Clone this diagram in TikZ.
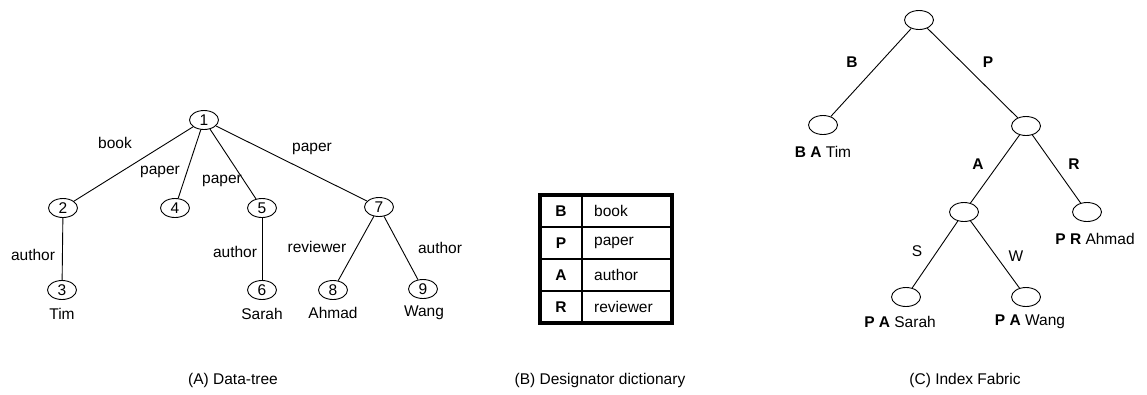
\documentclass[tikz,border=0pt]{standalone}
\usepackage{fontspec}
\setmainfont{Liberation Sans}
\usetikzlibrary{shapes.geometric}
\begin{document}
\begin{tikzpicture}[x=1pt,y=-1pt,
  every node/.style={font=\fontsize{15.5}{18}\selectfont},
  vert/.style={draw, ellipse, line width=0.9pt, minimum width=29pt, minimum height=19pt, inner sep=0pt},
  link/.style={line width=0.9pt},
  lbl/.style={inner sep=0pt},
  cellrule/.style={line width=1.8pt},
  cellframe/.style={line width=3.6pt}]
\useasboundingbox (0,0) rectangle (1147,394);

% ---------- (A) data tree ----------
\node[vert] (n1) at (204,120) {1};
\node[vert] (n2) at (63,208) {2};
\node[vert] (n4) at (175,208) {4};
\node[vert] (n5) at (262,208) {5};
\node[vert] (n7) at (379,207) {7};
\node[vert] (n3) at (62,290) {3};
\node[vert] (n6) at (262,290) {6};
\node[vert] (n8) at (333,290) {8};
\node[vert] (n9) at (423,289) {9};

\draw[link] (n1) -- (n2);
\draw[link] (n1) -- (n4);
\draw[link] (n1) -- (n5);
\draw[link] (n1) -- (n7);
\draw[link] (n2) -- (n3);
\draw[link] (n5) -- (n6);
\draw[link] (n7) -- (n8);
\draw[link] (n7) -- (n9);

\node[lbl] (lbook) at (115,143) {book};
\node[lbl] (lpap4) at (160,172) {paper};
\node[lbl] (lpap5) at (222,181) {paper};
\node[lbl] (lpap7) at (312,149) {paper};
\node[lbl] (laut3) at (33,255) {author};
\node[lbl] (laut6) at (235,252) {author};
\node[lbl] (lrev8) at (317,247) {reviewer};
\node[lbl] (laut9) at (440,248) {author};

\node[lbl] (tim)   at (62,314)  {Tim};
\node[lbl] (sarah) at (262,314) {Sarah};
\node[lbl] (ahmad) at (333,313) {Ahmad};
\node[lbl] (wang)  at (424,313) {Wang};

\node[lbl] (capA) at (233,380) {(A) Data-tree};

% ---------- (B) designator dictionary ----------
\draw[cellrule] (540,227) -- (672,227);
\draw[cellrule] (540,259) -- (672,259);
\draw[cellrule] (540,291) -- (672,291);
\draw[cellrule] (582,195) -- (582,323);
\draw[cellframe] (540,195) rectangle (672,323);
\foreach \k/\d [count=\i from 0] in {B/book, P/paper, A/author, R/reviewer}{
  \node[lbl] (key\k) at (561,{211+32*\i}) {\textbf{\k}};
  \node[lbl, anchor=west] (val\k) at (594,{211+32*\i}) {\d};
}
\node[lbl] (capB) at (600,380) {(B) Designator dictionary};

% ---------- (C) index fabric ----------
\node[vert] (r)  at (919,20)  {};
\node[vert] (cb) at (823,125) {};
\node[vert] (cp) at (1026,126) {};
\node[vert] (ca) at (964,212) {};
\node[vert] (cr) at (1087,212) {};
\node[vert] (cs) at (906,297) {};
\node[vert] (cw) at (1026,297) {};

\draw[link] (r) -- (cb);
\draw[link] (r) -- (cp);
\draw[link] (cp) -- (ca);
\draw[link] (cp) -- (cr);
\draw[link] (ca) -- (cs);
\draw[link] (ca) -- (cw);

\node[lbl] (eB) at (852,62)  {\textbf{B}};
\node[lbl] (eP) at (988,62)  {\textbf{P}};
\node[lbl] (eA) at (978,164) {\textbf{A}};
\node[lbl] (eR) at (1074,164) {\textbf{R}};
\node[lbl] (eS) at (917,251) {S};
\node[lbl] (eW) at (1016,256) {W};

\node[lbl] (tB) at (823,152)  {\textbf{B A} Tim};
\node[lbl] (tR) at (1095,239) {\textbf{P R} Ahmad};
\node[lbl] (tS) at (900,322)  {\textbf{P A} Sarah};
\node[lbl] (tW) at (1030,322) {\textbf{P A} Wang};

\node[lbl] (capC) at (965,380) {(C) Index Fabric};
\end{tikzpicture}
\end{document}
